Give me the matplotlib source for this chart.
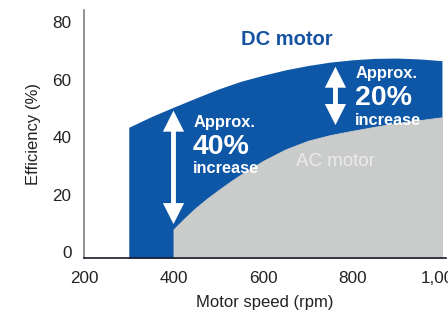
import matplotlib
matplotlib.use("Agg")
import matplotlib.pyplot as plt
from matplotlib.patches import FancyArrowPatch

plt.rcParams['font.family'] = ['Liberation Sans', 'DejaVu Sans']

dc_speed = [300, 350, 400, 450, 500, 550, 600, 650, 700, 750, 800, 850, 900, 950, 1000]
dc_eff = [43.5, 47.2, 50.5, 53.7, 56.8, 59.5, 61.6, 63.5, 65.0, 66.2, 67.0, 67.5, 67.6, 67.3, 66.7]
ac_speed = [400, 425, 450, 475, 500, 525, 550, 600, 650, 700, 750, 800, 850, 900, 950, 1000]
ac_eff = [8.0, 11.9, 15.5, 18.7, 21.6, 24.4, 27.0, 31.8, 35.8, 38.8, 40.8, 42.3, 43.7, 45.0, 46.0, 47.0]
x_ticks = [200, 400, 600, 800, 1000]
x_labels = ['200', '400', '600', '800', '1,000']
y_ticks = [0, 20, 40, 60, 80]

BLUE = '#0e56a6'
GRAY = '#cacbcb'
YMIN = -2

fig = plt.figure(figsize=(4.48, 3.13), dpi=100)
ax = fig.add_axes([0.1875, 0.1757, 0.808, 0.792])
ax.set_xlim(200, 1009)
ax.set_ylim(YMIN, 84.3)

ax.fill_between(dc_speed, dc_eff, YMIN, color=BLUE, lw=0, zorder=1)
ax.fill_between(ac_speed, ac_eff, YMIN, facecolor=GRAY, edgecolor=GRAY, lw=0.6, zorder=2)

for sp in ['top', 'right']:
    ax.spines[sp].set_visible(False)
ax.spines['left'].set_color('#808080')
ax.spines['left'].set_linewidth(1.2)
ax.spines['bottom'].set_color('#1a1a2a')
ax.spines['bottom'].set_linewidth(1.2)
ax.spines['left'].set_zorder(5)
ax.spines['bottom'].set_zorder(5)

ax.set_xticks(x_ticks)
ax.set_xticklabels(x_labels)
ax.set_yticks(y_ticks)
ax.tick_params(axis='both', length=0, labelsize=12.3, colors='#222222')
ax.tick_params(axis='x', pad=9)
ax.tick_params(axis='y', pad=9)

ax.set_xlabel('Motor speed (rpm)', fontsize=12, color='#222222', labelpad=7)
ax.set_ylabel('Efficiency (%)', fontsize=12, color='#222222', labelpad=8)

# arrows
def darrow(x, y0, y1):
    a = FancyArrowPatch((x, y0), (x, y1),
                        arrowstyle='<|-|>,head_length=9.5,head_width=4.8',
                        mutation_scale=1, color='white', lw=3.5, zorder=4,
                        shrinkA=0, shrinkB=0, joinstyle='miter', capstyle='butt')
    ax.add_patch(a)

darrow(400, 49.3, 9.8)
darrow(762, 64.6, 44.3)

tk = dict(color='white', fontweight='bold', ha='left', va='center', zorder=6)
ax.text(444, 45.2, 'Approx.', fontsize=11.8, **tk)
ax.text(443, 36.5, '40%', fontsize=20.5, **tk)
ax.text(444, 29.2, 'increase', fontsize=11.8, **tk)
ax.text(806, 62.3, 'Approx.', fontsize=11.8, **tk)
ax.text(805, 53.6, '20%', fontsize=20.5, **tk)
ax.text(806, 45.9, 'increase', fontsize=11.8, **tk)

ax.text(654, 74.2, 'DC motor', fontsize=14.5, fontweight='bold', color='#1653a3',
        ha='center', va='center', zorder=6)
ax.text(761, 31.7, 'AC motor', fontsize=13.5, color='#ebebeb',
        ha='center', va='center', zorder=6)

fig.savefig('out.png', dpi=100)
